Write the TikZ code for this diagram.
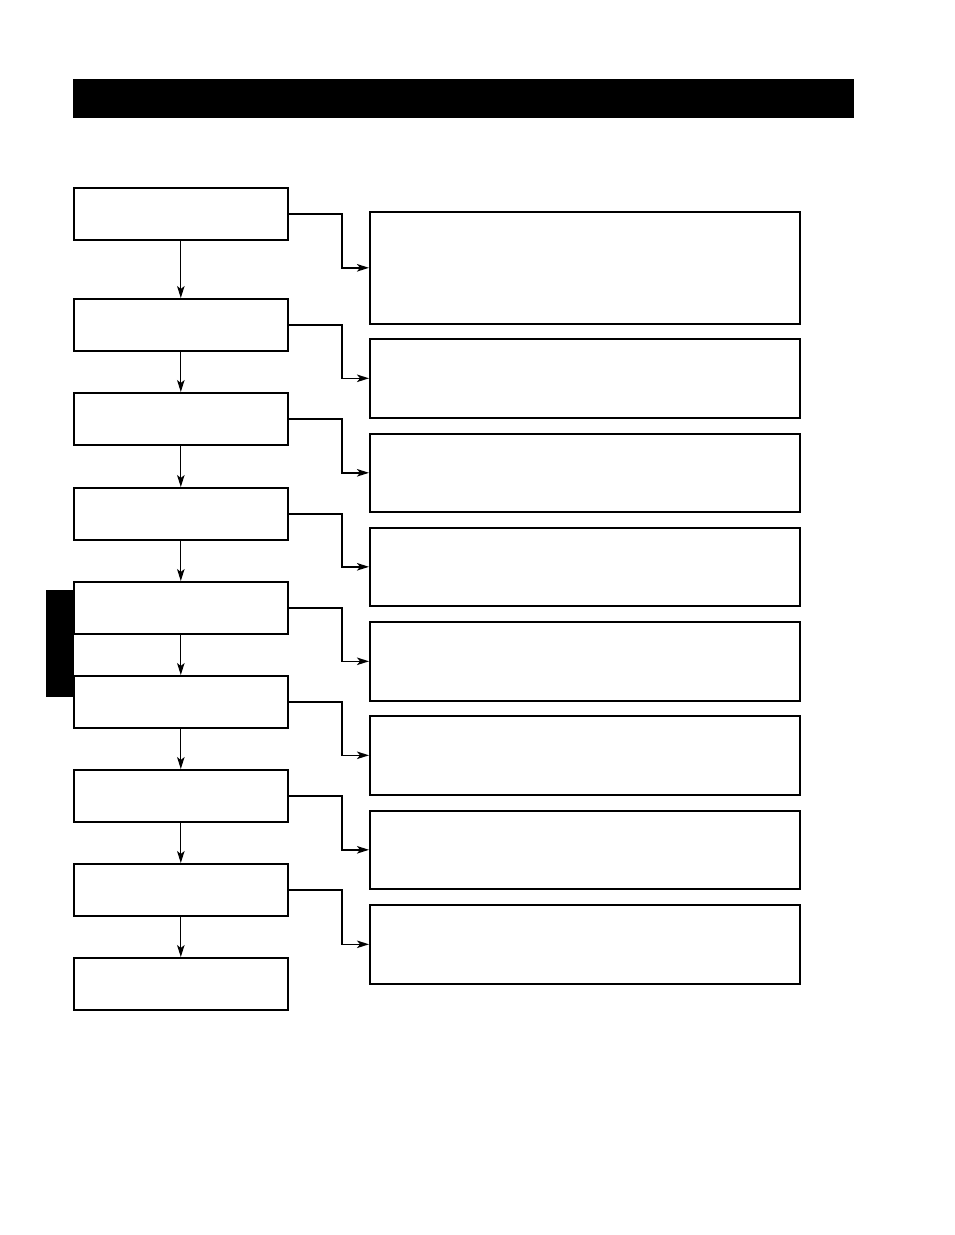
\documentclass[tikz,border=0pt]{standalone}
\usetikzlibrary{arrows.meta}
\begin{document}
\begin{tikzpicture}[x=1pt,y=-1pt,
  stepbox/.style={draw=black,line width=1.6pt,fill=white,minimum width=214pt,minimum height=52pt,inner sep=0pt},
  infobox/.style={draw=black,line width=1.6pt,fill=white,inner sep=0pt},
  flow/.style={-{Stealth[length=12pt,width=7.5pt,inset=3pt]},line width=1pt},
  link/.style={-{Stealth[length=12pt,width=7.5pt,inset=3pt]},line width=1.6pt}]
\useasboundingbox (0,0) rectangle (954,1235);
% header bar
\fill[black] (73,79) rectangle (854,118);
% side tab
\fill[black] (46,590) rectangle (74,697);
% left step boxes
\foreach \i/\t in {1/187,2/298,3/392,4/487,5/581,6/675,7/769,8/863,9/957}{
  \node[stepbox,anchor=north west] (L\i) at (73,\t) {};
}
% right info boxes
\foreach \i/\t/\b in {1/211/323,2/338/417,3/433/511,4/527/605,5/621/700,6/715/794,7/810/888,8/904/983}{
  \node[infobox,anchor=north west,minimum width=430pt,minimum height={\b-\t}] (R\i) at (369,\t) {};
}
% vertical flow arrows
\foreach \i [evaluate=\i as \j using int(\i+1)] in {1,...,8}{
  \draw[flow] (L\i.south) -- (L\j.north);
}
% elbow connectors
\foreach \i in {1,...,8}{
  \coordinate (E\i) at (342,0);
  \draw[link] (L\i.east) -| (E\i |- L\i.east) |- (R\i.west);
}
\end{tikzpicture}
\end{document}
